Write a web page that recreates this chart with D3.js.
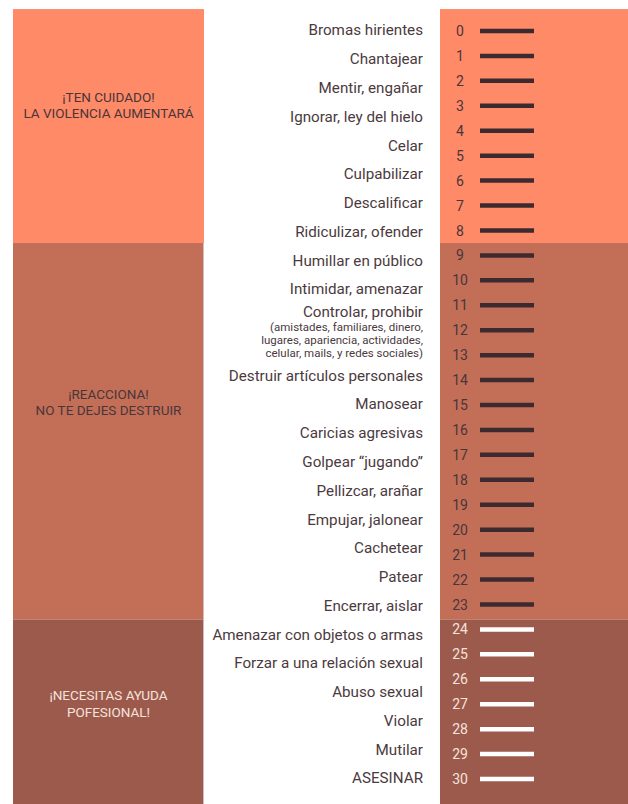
<!DOCTYPE html>
<html>
<head>
<meta charset="utf-8">
<script src="https://cdn.jsdelivr.net/npm/d3@7"></script>
<style>
    body { margin: 0; background: #fff; }
    #chart-area { width: 628px; height: 804px; }
    text { font-family: Roboto, "Open Sans", "DejaVu Sans", sans-serif; }
</style>
</head>
<body>
<div id="chart-area"></div>
<script>

// Levels of the scale (numbers next to each tick)
const levels = [0, 1, 2, 3, 4, 5, 6, 7, 8, 9, 10, 11, 12, 13, 14, 15,
    16, 17, 18, 19, 20, 21, 22, 23, 24, 25, 26, 27, 28, 29, 30];

// Behaviours, top to bottom, and how many text rows each one takes
const behaviours = ["Bromas hirientes", "Chantajear", "Mentir, engañar", "Ignorar, ley del hielo",
    "Celar", "Culpabilizar", "Descalificar", "Ridiculizar, ofender", "Humillar en público",
    "Intimidar, amenazar", "Controlar, prohibir", "Destruir artículos personales", "Manosear",
    "Caricias agresivas", "Golpear \u201cjugando\u201d", "Pellizcar, arañar", "Empujar, jalonear",
    "Cachetear", "Patear", "Encerrar, aislar", "Amenazar con objetos o armas",
    "Forzar a una relación sexual", "Abuso sexual", "Violar", "Mutilar", "ASESINAR"];
const behaviourRows = [1, 1, 1, 1, 1, 1, 1, 1, 1, 1, 2, 1, 1, 1, 1, 1, 1, 1, 1, 1, 1, 1, 1, 1, 1, 1];
const controlNote = ["(amistades, familiares, dinero,", "lugares, apariencia, actividades,",
    "celular, mails, y redes sociales)"];

// Zones, in level units
const zoneTitles = [
    ["¡TEN CUIDADO!", "LA VIOLENCIA AUMENTARÁ"],
    ["¡REACCIONA!", "NO TE DEJES DESTRUIR"],
    ["¡NECESITAS AYUDA", "POFESIONAL!"]
];
const zoneStart = [-0.88, 8.5, 23.6];
const zoneEnd = [8.5, 23.6, 31.2];
const zoneTitleAt = [2.95, 14.85, 26.95];


class violenceScaleVis {

    constructor(parentElement) {
        this.parentElement = parentElement;
        this.initVis();
    }

    initVis() {
        let vis = this;

        vis.width = 628;
        vis.height = 804;

        vis.svg = d3.select("#" + vis.parentElement).append("svg")
            .attr("width", vis.width)
            .attr("height", vis.height);

        // colours per zone
        vis.zoneFill = ["#ff8a68", "#c36f58", "#9c5a4c"];
        vis.zoneInk = ["#4a3538", "#4a3538", "#f6e2dc"];
        vis.zoneTick = ["#3d2a2e", "#3d2a2e", "#ffffff"];

        // y for the level ticks
        vis.y = d3.scaleLinear()
            .domain([levels[0], levels[levels.length - 1]])
            .range([31, 779]);

        // y for the label rows
        vis.totalRows = d3.sum(behaviourRows);
        vis.row = d3.scaleLinear()
            .domain([0, vis.totalRows - 1])
            .range([30, 778]);

        vis.leftPanel = {x0: 13, x1: 204};
        vis.rightPanel = {x0: 440, x1: 628};

        this.wrangleData();
    }

    wrangleData() {
        let vis = this;

        vis.zones = zoneTitles.map((t, i) => ({
            title: t, start: zoneStart[i], end: zoneEnd[i], titleAt: zoneTitleAt[i], idx: i
        }));

        let r = 0;
        vis.labels = behaviours.map((b, i) => {
            let item = {name: b, firstRow: r, rows: behaviourRows[i]};
            r += behaviourRows[i];
            return item;
        });

        vis.levelData = levels.map(l => ({
            level: l,
            zone: vis.zones.findIndex(z => l >= z.start && l < z.end)
        }));

        vis.updateVis();
    }

    updateVis() {
        let vis = this;

        // zone backgrounds, left and right
        [vis.leftPanel, vis.rightPanel].forEach(p => {
            vis.svg.append("g").selectAll("rect")
                .data(vis.zones)
                .enter().append("rect")
                .attr("x", p.x0)
                .attr("width", p.x1 - p.x0)
                .attr("y", d => vis.y(d.start))
                .attr("height", d => vis.y(d.end) - vis.y(d.start))
                .attr("fill", d => vis.zoneFill[d.idx]);
        });

        // thin edge on the left panel
        vis.svg.append("line")
            .attr("x1", vis.leftPanel.x1 - 0.5).attr("x2", vis.leftPanel.x1 - 0.5)
            .attr("y1", vis.y(zoneStart[1])).attr("y2", vis.height)
            .attr("stroke", "#cdbfbd").attr("stroke-width", 1);

        // zone titles
        vis.zones.forEach(z => {
            vis.svg.append("text")
                .attr("x", (vis.leftPanel.x0 + vis.leftPanel.x1) / 2)
                .attr("y", vis.y(z.titleAt))
                .attr("text-anchor", "middle")
                .attr("fill", vis.zoneInk[z.idx])
                .style("font-size", "13.5px")
                .selectAll("tspan")
                .data(z.title)
                .enter().append("tspan")
                .attr("x", (vis.leftPanel.x0 + vis.leftPanel.x1) / 2)
                .attr("dy", (d, i) => i === 0 ? "-0.2em" : "1.22em")
                .text(d => d);
        });

        // tick marks
        vis.svg.append("g").selectAll("line")
            .data(vis.levelData)
            .enter().append("line")
            .attr("x1", 480).attr("x2", 534)
            .attr("y1", d => vis.y(d.level))
            .attr("y2", d => vis.y(d.level))
            .attr("stroke", d => vis.zoneTick[d.zone])
            .attr("stroke-width", 4.5);

        // level numbers
        vis.svg.append("g").selectAll("text")
            .data(vis.levelData)
            .enter().append("text")
            .attr("x", 460)
            .attr("y", d => vis.y(d.level))
            .attr("dy", "0.36em")
            .attr("text-anchor", "middle")
            .attr("fill", d => vis.zoneInk[d.zone])
            .style("font-size", "14px")
            .text(d => d.level);

        // behaviour labels
        let labelX = 423;
        vis.labels.forEach(d => {
            if (d.rows === 1) {
                vis.svg.append("text")
                    .attr("x", labelX)
                    .attr("y", vis.row(d.firstRow))
                    .attr("dy", "0.36em")
                    .attr("text-anchor", "end")
                    .attr("fill", "#4b3a3e")
                    .style("font-size", "15.2px")
                    .text(d.name);
            } else {
                let mid = (vis.row(d.firstRow) + vis.row(d.firstRow + d.rows - 1)) / 2;
                vis.svg.append("text")
                    .attr("x", labelX)
                    .attr("y", mid - 21)
                    .attr("dy", "0.36em")
                    .attr("text-anchor", "end")
                    .attr("fill", "#4b3a3e")
                    .style("font-size", "15.2px")
                    .text(d.name);
                vis.svg.append("g").selectAll("text")
                    .data(controlNote)
                    .enter().append("text")
                    .attr("x", labelX)
                    .attr("y", (t, i) => mid - 5 + i * 13)
                    .attr("dy", "0.36em")
                    .attr("text-anchor", "end")
                    .attr("fill", "#4b3a3e")
                    .style("font-size", "11.5px")
                    .text(t => t);
            }
        });
    }
}

new violenceScaleVis("chart-area");

</script>
</body>
</html>
